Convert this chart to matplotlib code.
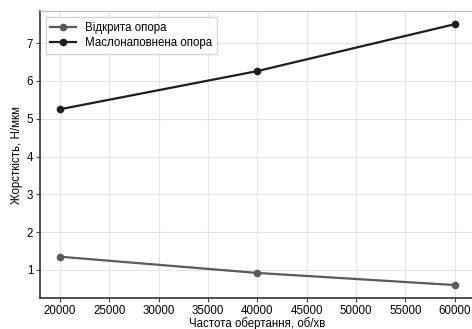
import matplotlib

matplotlib.use("Agg")
import matplotlib.pyplot as plt

plt.rcParams["font.family"] = ["Liberation Sans", "DejaVu Sans"]

speed = [20000, 40000, 60000]
open_support = [1.35, 0.92, 0.6]
oil_support = [5.25, 6.26, 7.5]

fig = plt.figure(figsize=(4.72, 3.29), dpi=100)
ax = fig.add_axes([0.085, 0.094, 0.92, 0.872])

ax.plot(speed, open_support, color="#5a5a5a", lw=1.6, marker="o", ms=4.5,
        label="Відкрита опора")
ax.plot(speed, oil_support, color="#1e1e1e", lw=1.6, marker="o", ms=4.5,
        label="Маслонаповнена опора")

ax.set_xticks(range(20000, 60001, 5000))
ax.set_yticks(range(1, 8))
ax.grid(True, color="#e3e3e3", lw=0.8)
ax.set_axisbelow(True)
ax.tick_params(labelsize=8.3, length=3, color="#444444", pad=2)
for side in ("left", "bottom"):
    ax.spines[side].set_color("#333333")
    ax.spines[side].set_linewidth(1.2)
for side in ("top", "right"):
    ax.spines[side].set_color("#bbbbbb")

ax.set_xlabel("Частота обертання, об/хв", fontsize=8.3, labelpad=0)
ax.set_ylabel("Жорсткість, Н/мкм", fontsize=8.3, labelpad=3)
ax.legend(loc="upper left", fontsize=8.3, frameon=True, edgecolor="#cccccc",
          fancybox=False, handlelength=2.2, borderpad=0.4, labelspacing=0.3)

fig.savefig("out.png", dpi=100)
